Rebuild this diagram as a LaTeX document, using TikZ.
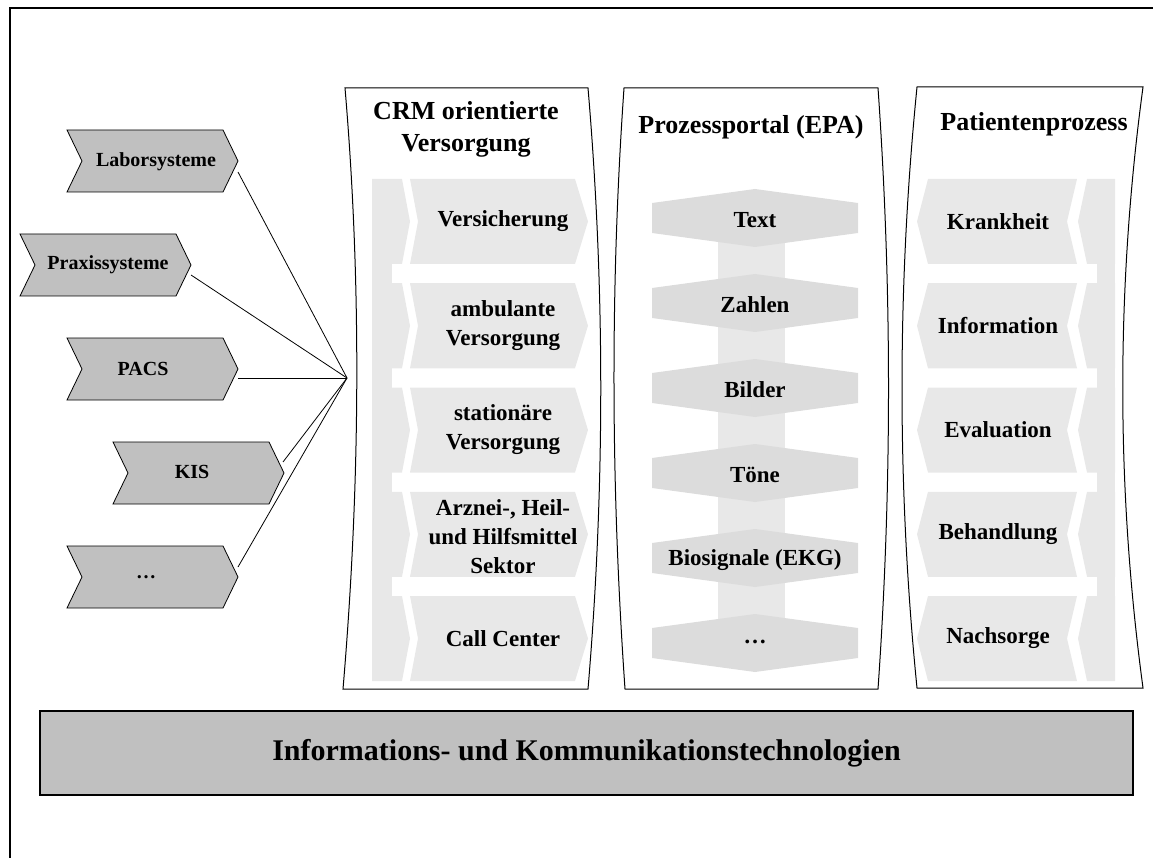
\documentclass[tikz,border=0pt]{standalone}
\usepackage{fontspec}
\setmainfont{Liberation Serif}
\definecolor{sysgray}{HTML}{C0C0C0}
\definecolor{itemgray}{HTML}{E8E8E8}
\definecolor{hexgray}{HTML}{DCDCDC}
\definecolor{bargray}{HTML}{E8E8E8}
\tikzset{
  frame/.style={draw=black, line width=1.2pt},
  sys/.style={fill=sysgray, draw=black, line width=0.8pt},
  syslabel/.style={font=\fontsize{20}{24}\selectfont\bfseries},
  itemtext/.style={font=\fontsize{23}{29}\selectfont\bfseries, align=center, inner sep=0pt},
  coltitle/.style={font=\fontsize{26}{32}\selectfont\bfseries, align=center, inner sep=0pt},
  itemfill/.style={fill=itemgray},
  hexfill/.style={fill=hexgray},
  column/.style={draw=black, line width=1pt},
  link/.style={draw=black, line width=0.8pt},
  ictbar/.style={draw=black, fill=sysgray, line width=1.2pt, minimum width=1093pt, minimum height=84pt, font=\fontsize{30}{36}\selectfont\bfseries}
}
\begin{document}
\begin{tikzpicture}[x=1pt,y=-1pt]
\useasboundingbox (0,0) rectangle (1153,858);
\draw[frame] (10,875) -- (10,8) -- (1175,8);

% ---------- left system chevrons ----------
\foreach \lx/\ty in {67/130,20/234,67/338,113/442,67/546}{
  \filldraw[sys] (\lx,\ty) -- ++(156,0) -- ++(15,31) -- ++(-15,31) -- ++(-156,0) -- ++(15,-31) -- cycle;
}
\node[syslabel] (labor) at (156,162) {Laborsysteme};
\node[syslabel] (praxis) at (108,265) {Praxissysteme};
\node[syslabel] (pacs) at (143,369) {PACS};
\node[syslabel] (kis) at (192,472) {KIS};
\node[syslabel] (sysdots) at (146,577) {…};

\coordinate (conv) at (347,378);
\coordinate (laborout) at (238,172);
\coordinate (praxisout) at (191,275);
\coordinate (pacsout) at (238,378);
\coordinate (kisout) at (283,462);
\coordinate (dotsout) at (238,567);
\draw[link] (laborout) -- (conv);
\draw[link] (praxisout) -- (conv);
\draw[link] (pacsout) -- (conv);
\draw[link] (kisout) -- (conv);
\draw[link] (dotsout) -- (conv);

% ---------- CRM column ----------
\fill[itemfill] (372,179) rectangle (392,681);
\foreach \t in {179,283.25,387.5,491.75,596}{
  \fill[itemfill] (372,\t) -- (402,\t) -- (410,\t+42.5) -- (402,\t+85) -- (372,\t+85) -- cycle;
  \fill[itemfill] (410,\t) -- (575,\t) -- (588,\t+42.5) -- (575,\t+85) -- (410,\t+85) -- (418,\t+42.5) -- cycle;
}
\node[itemtext] (crm1) at (503,221.5) {Versicherung};
\node[itemtext] (crm2) at (503,326) {ambulante\\Versorgung};
\node[itemtext] (crm3) at (503,430) {stationäre\\Versorgung};
\node[itemtext] (crm4) at (503,537) {Arznei-, Heil-\\und Hilfsmittel\\Sektor};
\node[itemtext] (crm5) at (503,638.5) {Call Center};
\draw[column] (345,88) -- (588,88) .. controls (605,288) and (605,488) .. (588,689) -- (343,689) .. controls (360,488) and (362,288) .. (345,88) -- cycle;
\node[coltitle] (crmtitle) at (466,129) {CRM orientierte\\Versorgung};

% ---------- Prozessportal column ----------
\fill[bargray] (718,218) rectangle (785,643);
\foreach \c in {218,303,388,473,558,643}{
  \fill[hexfill] (652,\c-15) -- (755,\c-29) -- (858,\c-15) -- (858,\c+15) -- (755,\c+29) -- (652,\c+15) -- cycle;
}
\node[itemtext] (h1) at (755,220) {Text};
\node[itemtext] (h2) at (755,305) {Zahlen};
\node[itemtext] (h3) at (755,390) {Bilder};
\node[itemtext] (h4) at (755,475) {Töne};
\node[itemtext] (h5) at (755,560) {Biosignale (EKG)};
\node[itemtext] (h6) at (755,642) {…};
\draw[column] (624,88) -- (878,88) .. controls (892,288) and (892,488) .. (878,689) -- (625,689) .. controls (611,488) and (610,288) .. (624,88) -- cycle;
\node[coltitle] (ppttitle) at (751,127) {Prozessportal (EPA)};

% ---------- Patientenprozess column ----------
\fill[itemfill] (1097,179) rectangle (1115,681);
\foreach \t in {179,283.25,387.5,491.75,596}{
  \fill[itemfill] (1115,\t) -- (1087,\t) -- (1078,\t+42.5) -- (1087,\t+85) -- (1115,\t+85) -- cycle;
  \fill[itemfill] (928,\t) -- (1077,\t) -- (1067,\t+42.5) -- (1077,\t+85) -- (928,\t+85) -- (917,\t+42.5) -- cycle;
}
\node[itemtext] (pat1) at (998,221.5) {Krankheit};
\node[itemtext] (pat2) at (998,326) {Information};
\node[itemtext] (pat3) at (998,430) {Evaluation};
\node[itemtext] (pat4) at (998,534) {Behandlung};
\node[itemtext] (pat5) at (998,638.5) {Nachsorge};
\draw[column] (917,87) -- (1143,87) .. controls (1116,287) and (1116,488) .. (1143,688) -- (917,688) .. controls (897,488) and (897,287) .. (917,87) -- cycle;
\node[coltitle] (pattitle) at (1034,124) {Patientenprozess};

% ---------- bottom bar ----------
\node[ictbar] (ict) at (586.5,753) {Informations- und Kommunikationstechnologien};
\end{tikzpicture}
\end{document}
